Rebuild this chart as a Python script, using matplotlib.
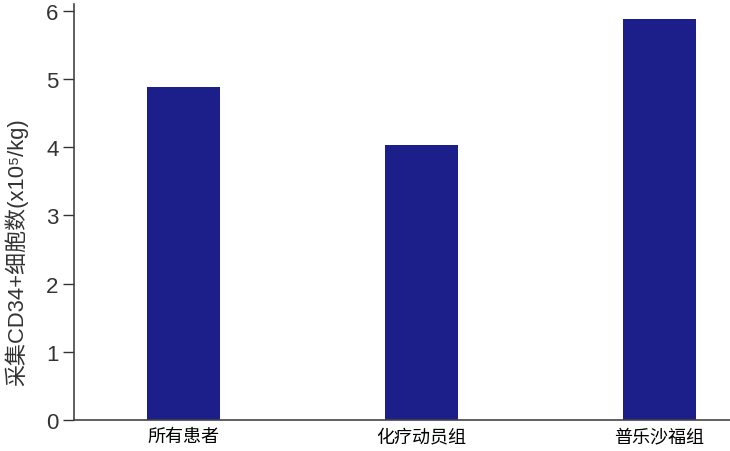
import matplotlib
matplotlib.use('Agg')
import matplotlib.pyplot as plt

plt.rcParams['font.family'] = ['Liberation Sans', 'Noto Sans CJK SC', 'DejaVu Sans']

grupos = ['所有患者', '化疗动员组', '普乐沙福组']
celulas = [4.88, 4.03, 5.88]

fig = plt.figure(figsize=(7.3, 4.52), dpi=100)
ax = fig.add_axes([0.1014, 0.0686, 0.8986, 0.9204])

pos = list(range(len(grupos)))
ax.bar(pos, celulas, width=0.307, color='#1c1e8a')

ax.set_xlim(-0.46, 2.296)
ax.set_ylim(0, 6.1)
ax.set_yticks([0, 1, 2, 3, 4, 5, 6])
ax.set_xticks(pos)
ax.set_xticklabels(grupos, fontsize=13, family=['Noto Sans CJK SC'], fontweight='medium')
ax.tick_params(axis='x', length=0, pad=5)
ax.tick_params(axis='y', length=8, width=1, labelsize=16, pad=3, colors='#333333')
ax.set_ylabel('采集CD34+细胞数(x10\u2075/kg)', fontsize=15.8, color='#333333')
ax.yaxis.set_label_coords(-0.070, 0.405)

for s in ['top', 'right']:
    ax.spines[s].set_visible(False)
for s in ['left', 'bottom']:
    ax.spines[s].set_color('#444444')
    ax.spines[s].set_linewidth(1.2)

fig.savefig('out.png', dpi=100)
